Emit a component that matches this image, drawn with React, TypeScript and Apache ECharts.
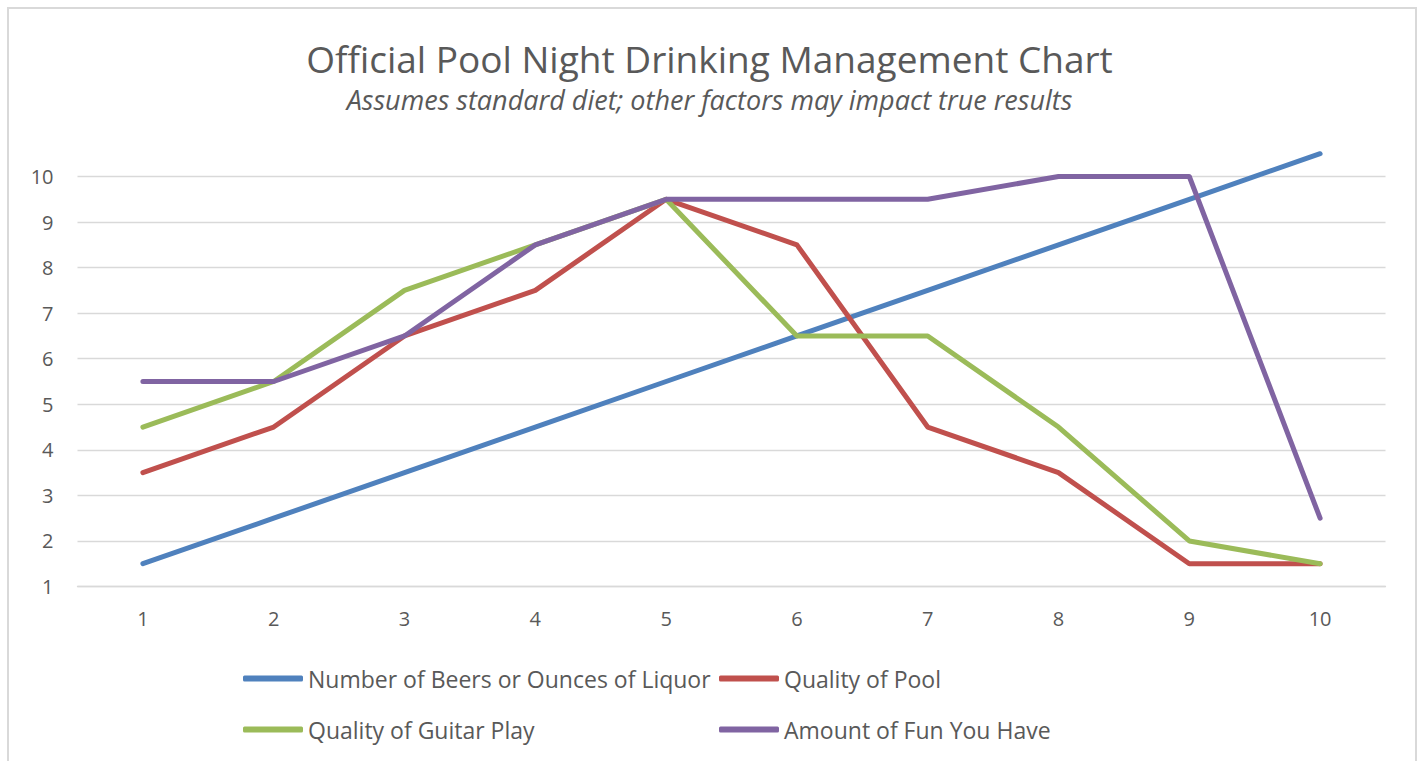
import React, { useEffect, useRef } from "react";
import * as echarts from "echarts";

const categories = ["1", "2", "3", "4", "5", "6", "7", "8", "9", "10"];
const beers = [1.5, 2.5, 3.5, 4.5, 5.5, 6.5, 7.5, 8.5, 9.5, 10.5];
const pool = [3.5, 4.5, 6.5, 7.5, 9.5, 8.5, 4.5, 3.5, 1.5, 1.5];
const guitar = [4.5, 5.5, 7.5, 8.5, 9.5, 6.5, 6.5, 4.5, 2, 1.5];
const fun = [5.5, 5.5, 6.5, 8.5, 9.5, 9.5, 9.5, 10, 10, 2.5];
const seriesNames = [
  "Number of Beers or Ounces of Liquor",
  "Quality of Pool",
  "Quality of Guitar Play",
  "Amount of Fun You Have",
];
const colors = ["#4F81BD", "#C0504D", "#9BBB59", "#8064A2"];
const titleText = "Official Pool Night Drinking Management Chart";
const subtitleText = "Assumes standard diet; other factors may impact true results";

const FONT = "'Open Sans', 'Noto Sans', sans-serif";
const TXT = "#595959";

export default function App() {
  const ref = useRef<HTMLDivElement>(null);
  useEffect(() => {
    if (!ref.current) return;
    const chart = echarts.init(ref.current, null, { renderer: "svg" });
    const data = [beers, pool, guitar, fun];
    const legendText = { color: TXT, fontSize: 23, fontFamily: FONT, lineHeight: 22 };
    chart.setOption({
      animation: false,
      backgroundColor: "#ffffff",
      title: [
        {
          text: titleText,
          left: "center",
          top: 36,
          padding: 0,
          textStyle: { color: TXT, fontSize: 37, fontWeight: "normal", fontFamily: FONT, lineHeight: 44 },
        },
        {
          text: subtitleText,
          left: "center",
          top: 84,
          padding: 0,
          textStyle: { color: TXT, fontSize: 27, fontWeight: "normal", fontStyle: "italic", fontFamily: FONT, lineHeight: 30 },
        },
      ],
      graphic: [
        {
          type: "rect",
          shape: { x: 8, y: 8, width: 1408, height: 780 },
          style: { fill: "none", stroke: "#D9D9D9", lineWidth: 2 },
          silent: true,
        },
      ],
      legend: [
        {
          data: [seriesNames[0], seriesNames[2]],
          orient: "vertical",
          left: 243,
          top: 667,
          padding: 0,
          itemGap: 28,
          itemWidth: 60,
          itemHeight: 6,
          icon: "roundRect",
          textStyle: legendText,
        },
        {
          data: [seriesNames[1], seriesNames[3]],
          orient: "vertical",
          left: 719,
          top: 667,
          padding: 0,
          itemGap: 28,
          itemWidth: 60,
          itemHeight: 6,
          icon: "roundRect",
          textStyle: legendText,
        },
      ],
      grid: { left: 77.5, right: 33.5, top: 176.5, bottom: 174.5 },
      xAxis: {
        type: "category",
        data: categories,
        boundaryGap: true,
        axisLine: { show: true, lineStyle: { color: "#D9D9D9", width: 1.3 } },
        axisTick: { show: false },
        axisLabel: { color: TXT, fontSize: 20, fontFamily: FONT, margin: 22 },
      },
      yAxis: {
        type: "value",
        min: 1,
        max: 10,
        interval: 1,
        axisLine: { show: false },
        axisTick: { show: false },
        splitLine: { lineStyle: { color: "#D9D9D9", width: 1.3 } },
        axisLabel: { color: TXT, fontSize: 20, fontFamily: FONT, margin: 24 },
      },
      series: data.map((d, i) => ({
        name: seriesNames[i],
        type: "line",
        data: d,
        clip: false,
        symbol: "none",
        showSymbol: false,
        color: colors[i],
        lineStyle: { color: colors[i], width: 5, cap: "round", join: "round" },
        z: 2 + i,
      })),
    });
    return () => chart.dispose();
  }, []);
  return (
    <div
      ref={ref}
      style={{ position: "absolute", left: 0, top: 0, width: 1419, height: 761 }}
    />
  );
}
